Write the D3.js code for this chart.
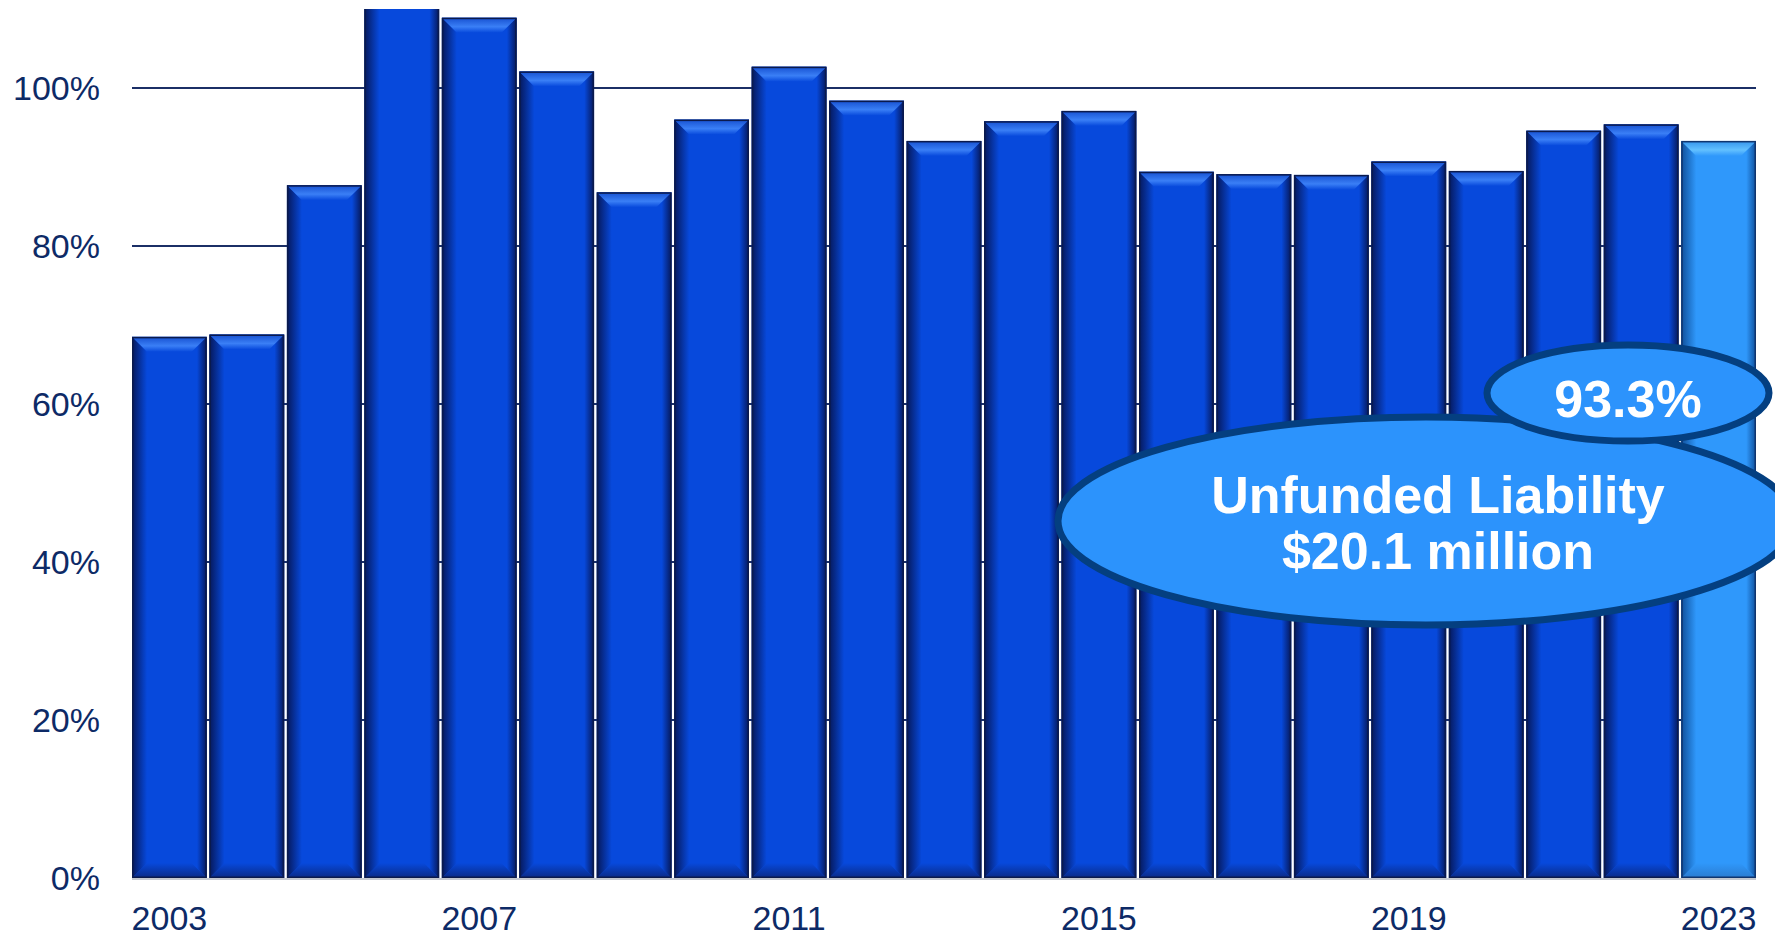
<!DOCTYPE html>
<html>
<head>
<meta charset="utf-8">
<script src="https://cdn.jsdelivr.net/npm/d3@7"></script>
<style>
  html, body { margin: 0; padding: 0; background: #ffffff; }
  svg { display: block; font-family: "Liberation Sans", Arial, sans-serif; }
</style>
</head>
<body>
<div id="chart"></div>
<script>
// funded ratio per year
const years = ["2003","2004","2005","2006","2007","2008","2009","2010","2011","2012","2013",
               "2014","2015","2016","2017","2018","2019","2020","2021","2022","2023"];
const funded = [68.5, 68.8, 87.7, 112, 108.9, 102.1, 86.8, 96.0, 102.7, 98.4, 93.3,
                95.8, 97.1, 89.4, 89.1, 89.0, 90.7, 89.5, 94.6, 95.4, 93.3];
const xTickLabels = ["2003","2007","2011","2015","2019","2023"];
const yTicks = [0, 20, 40, 60, 80, 100];
const calloutRatio = "93.3%";
const calloutLines = ["Unfunded Liability", "$20.1 million"];

const W = 1775, H = 937;
const margin = { top: 9, right: 19, bottom: 59, left: 132 };
const innerW = W - margin.left - margin.right,
      innerH = H - margin.top - margin.bottom;

const svg = d3.select("#chart").append("svg")
    .attr("width", W)
    .attr("height", H);

const defs = svg.append("defs");

// gradients for the bevelled bars
function addGrad(id, x2, y2, stops) {
    const g = defs.append("linearGradient").attr("id", id)
        .attr("x1", 0).attr("y1", 0).attr("x2", x2).attr("y2", y2);
    stops.forEach(s => g.append("stop").attr("offset", s[0]).attr("stop-color", s[1]));
}
const themes = {
    dark:  { body: "#0749dc", top1: "#1650d0", top2: "#3a7ff6", edge: "#06185a", bot: "#0a2a86", line: "#0b1a4c" },
    light: { body: "#2f98fb", top1: "#3393ec", top2: "#62c0ff", edge: "#0f4f9a", bot: "#2a7bd0", line: "#10356e" }
};
Object.entries(themes).forEach(([k, t]) => {
    addGrad("top-" + k, 0, 1, [[0, t.top1], [0.6, t.top2], [1, t.body]]);
    addGrad("left-" + k, 1, 0, [[0, t.edge], [1, t.body]]);
    addGrad("right-" + k, 1, 0, [[0, t.body], [0.35, t.body], [1, t.edge]]);
    addGrad("bot-" + k, 0, 1, [[0, t.body], [1, t.bot]]);
});

defs.append("clipPath").attr("id", "plot-clip")
    .append("rect")
    .attr("x", 0).attr("y", 0)
    .attr("width", innerW).attr("height", innerH);

const g = svg.append("g")
    .attr("transform", `translate(${margin.left},${margin.top})`);

const x = d3.scaleBand()
    .domain(years)
    .range([0, innerW])
    .paddingInner(0.035)
    .paddingOuter(0.0);

const y = d3.scaleLinear()
    .domain([0, 110])
    .range([innerH, 0]);

// gridlines
g.append("g")
    .selectAll("line")
    .data(yTicks.filter(d => d > 0))
    .enter()
    .append("line")
    .attr("x1", 0)
    .attr("x2", innerW)
    .attr("y1", d => y(d))
    .attr("y2", d => y(d))
    .attr("stroke", "#1b2f66")
    .attr("stroke-width", 2);

// y axis labels
const yAxis = g.append("g")
    .call(d3.axisLeft(y).tickValues(yTicks).tickFormat(d => d + "%").tickSize(0).tickPadding(32));
yAxis.select(".domain").remove();
yAxis.selectAll("text")
    .attr("font-size", 34)
    .attr("font-family", "Liberation Sans, Arial, sans-serif")
    .attr("fill", "#0d2a66")
    .attr("dy", "0.35em");

// bars
const bars = g.append("g").attr("clip-path", "url(#plot-clip)");
const bev = 15;
const data = years.map((yr, i) => ({ year: yr, value: funded[i], theme: i === years.length - 1 ? "light" : "dark" }));

const barG = bars.selectAll(".bar")
    .data(data)
    .enter()
    .append("g")
    .attr("class", "bar");

barG.each(function(d) {
    const sel = d3.select(this);
    const t = themes[d.theme];
    const x0 = x(d.year), w = x.bandwidth();
    const yt = y(d.value), yb = y(0);
    const pts = a => a.map(p => p.join(",")).join(" ");

    sel.append("rect")
        .attr("x", x0).attr("y", yt)
        .attr("width", w).attr("height", yb - yt)
        .attr("fill", t.body);
    // bottom bevel
    sel.append("polygon")
        .attr("points", pts([[x0, yb], [x0 + w, yb], [x0 + w - bev, yb - bev], [x0 + bev, yb - bev]]))
        .attr("fill", `url(#bot-${d.theme})`);
    // left bevel
    sel.append("polygon")
        .attr("points", pts([[x0, yt], [x0 + bev, yt + bev], [x0 + bev, yb - bev], [x0, yb]]))
        .attr("fill", `url(#left-${d.theme})`);
    // right bevel
    sel.append("polygon")
        .attr("points", pts([[x0 + w, yt], [x0 + w - bev, yt + bev], [x0 + w - bev, yb - bev], [x0 + w, yb]]))
        .attr("fill", `url(#right-${d.theme})`);
    // top bevel
    sel.append("polygon")
        .attr("points", pts([[x0, yt], [x0 + w, yt], [x0 + w - bev, yt + bev], [x0 + bev, yt + bev]]))
        .attr("fill", `url(#top-${d.theme})`);
    // outline
    sel.append("rect")
        .attr("x", x0 + 0.75).attr("y", yt + 0.75)
        .attr("width", w - 1.5).attr("height", yb - yt - 1.5)
        .attr("fill", "none")
        .attr("stroke", t.line)
        .attr("stroke-width", 1.5);
});

// baseline
g.append("line")
    .attr("x1", 0).attr("x2", innerW)
    .attr("y1", y(0) + 1).attr("y2", y(0) + 1)
    .attr("stroke", "#c4c8d0")
    .attr("stroke-width", 2);

// x axis labels
const xAxis = g.append("g")
    .attr("transform", `translate(0,${innerH})`)
    .call(d3.axisBottom(x).tickValues(xTickLabels).tickSize(0).tickPadding(28));
xAxis.select(".domain").remove();
xAxis.selectAll("text")
    .attr("font-size", 34)
    .attr("font-family", "Liberation Sans, Arial, sans-serif")
    .attr("fill", "#0d2a66");

// callout bubbles
const bubbleFill = "#2c93fc", bubbleStroke = "#043f80";
svg.append("ellipse")
    .attr("cx", 1426).attr("cy", 521)
    .attr("rx", 368).attr("ry", 104)
    .attr("fill", bubbleFill)
    .attr("stroke", bubbleStroke)
    .attr("stroke-width", 7);

svg.append("ellipse")
    .attr("cx", 1628).attr("cy", 393)
    .attr("rx", 141).attr("ry", 48)
    .attr("fill", bubbleFill)
    .attr("stroke", bubbleStroke)
    .attr("stroke-width", 7);

svg.append("text")
    .attr("x", 1628).attr("y", 398)
    .attr("text-anchor", "middle")
    .attr("dy", "0.36em")
    .attr("font-size", 52)
    .attr("font-weight", "bold")
    .attr("fill", "#ffffff")
    .text(calloutRatio);

svg.selectAll(".callout-line")
    .data(calloutLines)
    .enter()
    .append("text")
    .attr("class", "callout-line")
    .attr("x", 1438)
    .attr("y", (d, i) => 494 + i * 56)
    .attr("dy", "0.36em")
    .attr("text-anchor", "middle")
    .attr("font-size", 52)
    .attr("font-weight", "bold")
    .attr("fill", "#ffffff")
    .text(d => d);
</script>
</body>
</html>
